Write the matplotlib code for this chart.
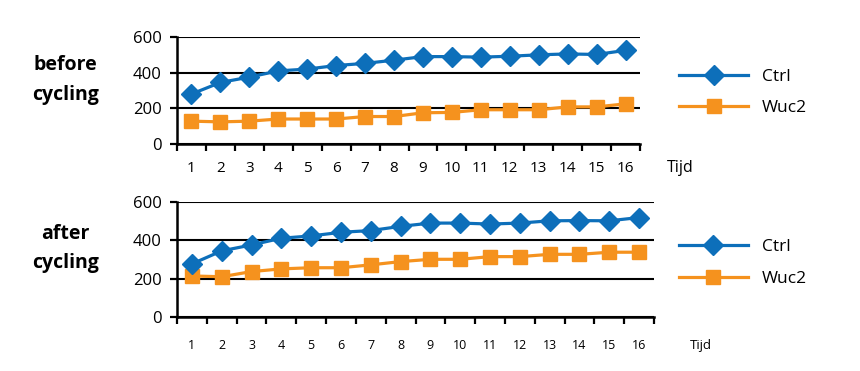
import matplotlib.pyplot as plt

# data
tijd = list(range(1, 17))
before_ctrl = [280, 345, 375, 410, 420, 440, 452, 470, 490, 490, 487, 492, 500, 505, 502, 525]
before_wuc2 = [128, 124, 128, 140, 140, 140, 154, 154, 175, 177, 192, 192, 192, 208, 208, 225]
after_ctrl = [277, 345, 376, 411, 423, 442, 451, 473, 490, 490, 485, 490, 502, 503, 502, 519]
after_wuc2 = [214, 210, 237, 251, 257, 257, 272, 289, 301, 301, 315, 315, 327, 327, 338, 338]
yticks = [0, 200, 400, 600]
row_labels = ["before\ncycling", "after\ncycling"]

BLUE = "#0D6FBA"
ORANGE = "#F5921E"
plt.rcParams['font.family'] = ['Open Sans', 'DejaVu Sans']

fig = plt.figure(figsize=(8.6, 3.71), dpi=100)
ax_top = fig.add_axes([0.2058, 0.6119, 0.5384, 0.2884])
ax_bot = fig.add_axes([0.2058, 0.1456, 0.5547, 0.3099])

panels = [
    (ax_top, before_ctrl, before_wuc2, 11, 12, 1.05, 0.48, 0.85),
    (ax_bot, after_ctrl, after_wuc2, 9, 16, 1.019, 0.47, 0.95),
]

for ax, ctrl, wuc2, xfs, xpad, leg_x, leg_y, leg_sp in panels:
    ax.plot(tijd, ctrl, color=BLUE, lw=2.3, marker='D', ms=10, mec=BLUE, label="Ctrl", zorder=4)
    ax.plot(tijd, wuc2, color=ORANGE, lw=2.3, marker='s', ms=9.5, mec=ORANGE, label="Wuc2", zorder=3)
    ax.set_xlim(0.5, 16.5)
    ax.set_ylim(0, 600)
    ax.set_yticks(yticks)
    ax.set_xticks(tijd)
    ax.set_xticks([i + 0.5 for i in range(0, 17)], minor=True)
    ax.tick_params(axis='x', which='major', length=0, pad=xpad, labelsize=xfs)
    ax.tick_params(axis='x', which='minor', length=5, width=1.6, direction='out')
    ax.tick_params(axis='y', length=5, width=1.6, labelsize=12, pad=6)
    ax.grid(axis='y', color='black', lw=1.5)
    ax.set_axisbelow(True)
    for s in ['top', 'right']:
        ax.spines[s].set_visible(False)
    for s in ['left', 'bottom']:
        ax.spines[s].set_linewidth(1.8)
    ax.spines['bottom'].set_zorder(5)
    ax.legend(loc='center left', bbox_to_anchor=(leg_x, leg_y),
              frameon=False, fontsize=12.5, handlelength=4.0, labelspacing=leg_sp)

fig.text(0.775, 0.546, "Tijd", fontsize=11.5, va='center')
fig.text(0.802, 0.070, "Tijd", fontsize=9.5, va='center')
fig.text(0.076, 0.785, row_labels[0], fontsize=14, fontweight='bold', ha='center', va='center', linespacing=1.65)
fig.text(0.076, 0.33, row_labels[1], fontsize=14, fontweight='bold', ha='center', va='center', linespacing=1.65)

fig.savefig("out.png", dpi=100)
